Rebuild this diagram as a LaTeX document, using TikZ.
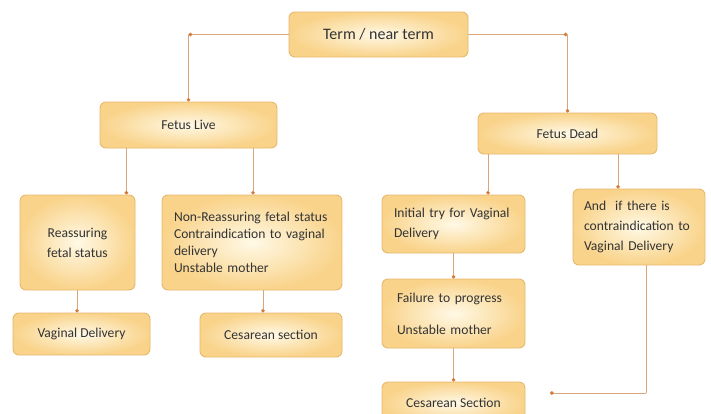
\documentclass[tikz,border=0pt]{standalone}
\usepackage{fontspec}
\setmainfont{Carlito}
\usetikzlibrary{arrows.meta,shadings}
\definecolor{boxedge}{HTML}{E6B86C}
\definecolor{boxin}{HTML}{FFF9E6}
\definecolor{boxout}{HTML}{F9D38A}
\definecolor{conncol}{HTML}{DDA57A}
\definecolor{dotcol}{HTML}{D27A3C}
\definecolor{txt}{HTML}{333333}
\tikzset{
  fbox/.style={draw=boxedge, line width=0.9pt, rounded corners=6pt,
    inner color=boxin, outer color=boxout, inner sep=0pt,
    font=\fontsize{13.6}{17}\selectfont, text=txt},
  conn/.style={draw=conncol, line width=0.9pt, -{Circle[length=3.6pt,color=dotcol]}},
  plain/.style={draw=conncol, line width=0.9pt},
}
\begin{document}
\begin{tikzpicture}[x=1pt,y=-1pt]
\useasboundingbox (0,0) rectangle (711,413);
\fill[white] (0,0) rectangle (711,413);
% boxes
\node[fbox, minimum width=179pt, minimum height=45pt] (term) at (378.5,34.5) {\fontsize{16}{19}\selectfont Term / near term};
\node[fbox, minimum width=177pt, minimum height=46pt] (live) at (188.5,125) {Fetus Live};
\node[fbox, minimum width=179pt, minimum height=41pt] (dead) at (567.5,133.5) {Fetus Dead};
\node[fbox, minimum width=115pt, minimum height=95pt, align=center] (reass) at (77.5,242.5) {Reassuring\\[3pt]fetal status};
\node[fbox, minimum width=180pt, minimum height=95pt, text width=156pt, align=left] (nonre) at (252,242.5) {Non-Reassuring fetal status\\Contraindication to vaginal\\delivery\\Unstable mother};
\node[fbox, minimum width=137pt, minimum height=42pt] (vag) at (81.5,334) {Vaginal Delivery};
\node[fbox, minimum width=142pt, minimum height=44pt] (ces1) at (271,335) {Cesarean section};
\node[fbox, minimum width=143pt, minimum height=58pt, text width=119pt, align=left] (init) at (453.5,224) {Initial try for Vaginal\\[3pt]Delivery};
\node[fbox, minimum width=132pt, minimum height=76pt, text width=110pt, align=left] (andif) at (639,227) {And~ if there is\\[3pt]contraindication to\\[3pt]Vaginal Delivery};
\node[fbox, minimum width=143pt, minimum height=69pt, text width=113pt, align=left] (fail) at (453.5,313.5) {Failure to progress\\[15pt]Unstable mother};
\node[fbox, minimum width=143pt, minimum height=42pt] (ces2) at (453.5,403) {Cesarean Section};
% connectors
\coordinate (cl) at (live.north |- term.west);
\coordinate (cr) at (dead.north |- term.east);
\draw[conn] (term.west) -- (cl);
\draw[conn] (cl) -- (live.north);
\draw[conn] (term.east) -- (cr);
\draw[conn] (cr) -- (dead.north);
\draw[conn] ([xshift=-9pt]reass.north east |- live.south) -- ([xshift=-9pt]reass.north east);
\draw[conn] ([xshift=1pt]nonre.north |- live.south) -- ([xshift=1pt]nonre.north);
\draw[conn] ([xshift=-0.5pt]reass.south) -- ([xshift=-0.5pt]reass.south |- vag.north);
\draw[conn] ([xshift=11pt]nonre.south) -- ([xshift=11pt]nonre.south |- ces1.north);
\draw[conn] ([xshift=-79.5pt]dead.south) -- ([xshift=-79.5pt]dead.south |- init.north);
\draw[conn] ([xshift=-21pt]andif.north |- dead.south) -- ([xshift=-21pt]andif.north);
\draw[conn] (init.south) -- (fail.north);
\draw[conn] (fail.south) -- (ces2.north);
\coordinate (bend) at ([xshift=7pt]andif.south |- 0,393);
\coordinate (tip) at (550,393);
\draw[plain] ([xshift=7pt]andif.south) -- (bend);
\draw[conn] (bend) -- (tip);
\end{tikzpicture}
\end{document}
